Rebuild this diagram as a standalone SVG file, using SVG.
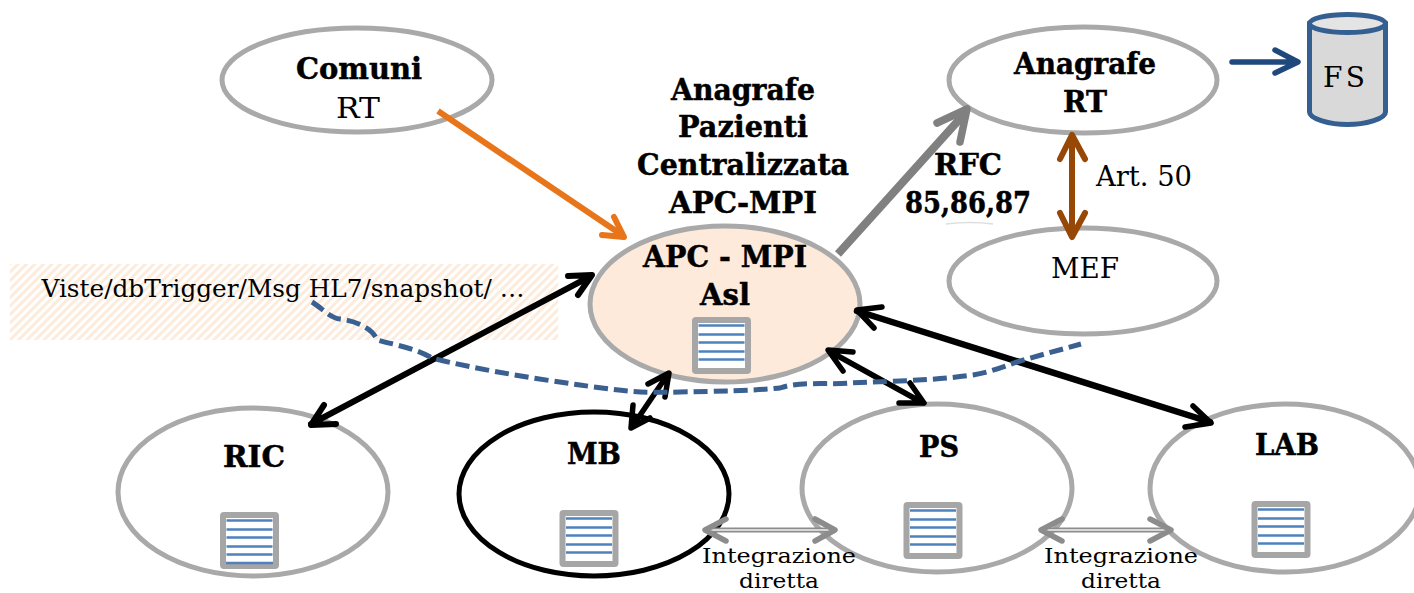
<svg xmlns="http://www.w3.org/2000/svg" width="1414" height="593" viewBox="0 0 1414 593">
<style>
text{font-family:"DejaVu Serif","Liberation Serif",serif;fill:#000;text-anchor:middle}
.b{font-weight:bold;font-size:30px;stroke:#000;stroke-width:.5}
.r{font-size:28px}
.s{font-size:21px}
.e{fill:#fff;stroke:#a9a9a9;stroke-width:5}
.c{fill:none;stroke-linecap:round;stroke-linejoin:round}
.k{stroke:#000;stroke-width:5.5}
</style>
<defs>
<pattern id="h" width="6" height="6" patternUnits="userSpaceOnUse" patternTransform="rotate(45)"><rect width="6" height="6" fill="#fff"/><rect width="3" height="6" fill="#fdebdc"/></pattern>
<g id="t"><rect x="-26.5" y="-25.5" width="53" height="51" rx="1" fill="#fff" stroke="#a6a6a6" stroke-width="6"/><path d="M-23-20H23M-23-11H23M-23-3H23M-23 6H23M-23 14H23" stroke="#4f81bd" stroke-width="2.5" fill="none"/></g>
</defs>
<rect id="hatch" x="10" y="264" width="548" height="76" fill="url(#h)"/>
<text x="283" y="297" style="font-size:25px" textLength="483" lengthAdjust="spacingAndGlyphs">Viste/dbTrigger/Msg HL7/snapshot/ …</text>
<g id="comuni"><ellipse class="e" cx="357" cy="80" rx="135" ry="52"/><text class="b" x="359" y="79" textLength="126" lengthAdjust="spacingAndGlyphs">Comuni</text><text class="r" x="358" y="118" textLength="44" lengthAdjust="spacingAndGlyphs">RT</text></g>
<g id="titolo"><text class="b" x="743" y="100" textLength="144" lengthAdjust="spacingAndGlyphs">Anagrafe</text><text class="b" x="743" y="137" textLength="130" lengthAdjust="spacingAndGlyphs">Pazienti</text><text class="b" x="743" y="175" textLength="212" lengthAdjust="spacingAndGlyphs">Centralizzata</text><text class="b" x="743" y="213" textLength="148" lengthAdjust="spacingAndGlyphs">APC-MPI</text></g>
<g id="anagrafe"><ellipse class="e" cx="1083" cy="80" rx="134" ry="53"/><text class="b" x="1085" y="74" textLength="142" lengthAdjust="spacingAndGlyphs">Anagrafe</text><text class="b" x="1085" y="112" textLength="44" lengthAdjust="spacingAndGlyphs">RT</text></g>
<g id="mef"><ellipse class="e" cx="1083" cy="281" rx="134" ry="53"/><text class="r" x="1085" y="278" textLength="68" lengthAdjust="spacingAndGlyphs">MEF</text></g>
<g id="fs"><path d="M1309.500 24V112C1309.500 119 1330 124.500 1347.500 124.500S1385.500 119 1385.500 112V24Z" fill="#d9d9d9" stroke="#355f91" stroke-width="5"/><ellipse cx="1347.500" cy="23.500" rx="38" ry="9" fill="#e4e4e4" stroke="#355f91" stroke-width="5"/><text class="r" x="1344" y="87" textLength="42" lengthAdjust="spacing">F S</text></g>
<g id="apc"><ellipse cx="725" cy="304" rx="135" ry="78" fill="#fdeadb" stroke="#a9a9a9" stroke-width="5"/><text class="b" x="725" y="267" textLength="164" lengthAdjust="spacingAndGlyphs">APC - MPI</text><text class="b" x="725" y="305" textLength="50" lengthAdjust="spacingAndGlyphs">Asl</text><use href="#t" x="721.500" y="345.500"/></g>
<g id="ric"><ellipse class="e" cx="253" cy="492" rx="135" ry="84"/><text class="b" x="254" y="467" textLength="62" lengthAdjust="spacingAndGlyphs">RIC</text><use href="#t" x="249.500" y="540.500"/><path d="M226 563H273" stroke="#4f81bd" stroke-width="2.500"/></g>
<g id="mb"><ellipse cx="594" cy="494" rx="135" ry="82" fill="#fff" stroke="#000" stroke-width="5"/><text class="b" x="594" y="464" textLength="54" lengthAdjust="spacingAndGlyphs">MB</text><use href="#t" x="589" y="538.500"/></g>
<g id="ps"><ellipse class="e" cx="937" cy="488" rx="135" ry="84"/><text class="b" x="939" y="457" textLength="40" lengthAdjust="spacingAndGlyphs">PS</text><use href="#t" x="933" y="530.500"/></g>
<g id="lab"><ellipse class="e" cx="1285" cy="488" rx="135" ry="84"/><text class="b" x="1287" y="455" textLength="64" lengthAdjust="spacingAndGlyphs">LAB</text><use href="#t" x="1281" y="529.500"/></g>
<g id="connectors">
<path d="M438 111L622 235" fill="none" stroke="#e8751a" stroke-width="6"/>
<path class="c" d="M602 235L624 237L614 217" stroke="#e8751a" stroke-width="6"/>
<path d="M838 254L966 112" fill="none" stroke="#808080" stroke-width="8"/>
<path class="c" d="M937 123L967 109L960 142" stroke="#808080" stroke-width="7.500"/>
<path class="c" d="M1232 62H1296M1275 50L1298 62L1275 73" stroke="#1f497d" stroke-width="5.500"/>
<path class="c" d="M1072 136V236M1060 159L1072 135L1085 159M1060 213L1072 237L1085 213" stroke="#974706" stroke-width="6"/>
<path class="c k" d="M311 424L591 276M568 276L592 275L578 295M336 424L311 425L324 405" style="stroke-width:6"/>
<path class="c k" d="M632 427L668 374M648 384L669 373L665 397M633 405L631 428L650 418"/>
<path class="c k" d="M829 351L923 403M853 352L828 350L843 371M910 383L924 403L899 403"/>
<path class="c k" d="M857 311L1210 422" style="stroke-width:6.500"/>
<path class="c k" d="M882 307L857 310L874 328M1193 406L1211 423L1185 427"/>
<path d="M312 302C322 308 330 318 340 319S372 326 377 340C395 345 415 348 432 358C470 368 530 378 580 385S640 393 680 392S750 391 780 388C800 381 830 385 850 383C890 381 930 381 973 375C990 372 1000 368 1017 362C1040 355 1060 350 1081 344" fill="none" stroke="#3a5f91" stroke-width="5" stroke-dasharray="14 6"/>
<g fill="none" stroke="#8c8c8c">
<path d="M708 530H832M1044 530H1168" stroke-width="5"/><path d="M708 530H832M1044 530H1168" stroke="#f0f0f0" stroke-width="1.500"/>
<path class="c" stroke-width="5.500" d="M726 519L705 530L726 541M815 519L835 530L815 541M1062 519L1041 530L1062 541M1150 519L1171 530L1150 541"/>
</g>
</g>
<text class="b" x="968" y="175" textLength="68" lengthAdjust="spacingAndGlyphs">RFC</text>
<text class="b" x="968" y="213" textLength="126" lengthAdjust="spacingAndGlyphs">85,86,87</text>
<path d="M946 224Q970 221 993 224" fill="none" stroke="#ddd" stroke-width="1.500"/>
<text class="r" x="1144" y="186" textLength="96" lengthAdjust="spacingAndGlyphs">Art. 50</text>
<text class="s" x="779" y="563" textLength="154" lengthAdjust="spacingAndGlyphs">Integrazione</text>
<text class="s" x="779" y="588" textLength="80" lengthAdjust="spacingAndGlyphs">diretta</text>
<text class="s" x="1121" y="563" textLength="154" lengthAdjust="spacingAndGlyphs">Integrazione</text>
<text class="s" x="1121" y="588" textLength="80" lengthAdjust="spacingAndGlyphs">diretta</text>
</svg>
